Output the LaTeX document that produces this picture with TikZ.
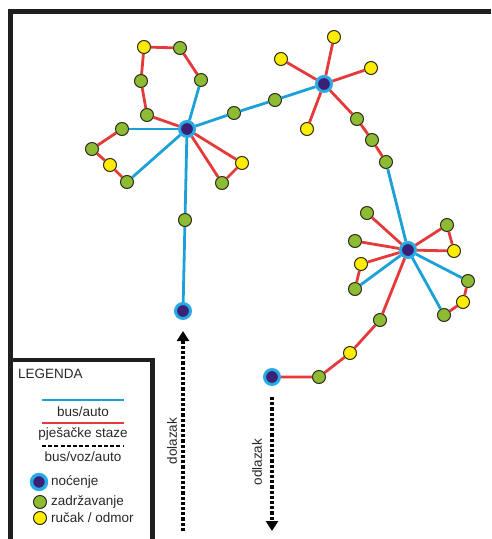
\documentclass[tikz,border=0pt]{standalone}
\usepackage{fontspec}
\setmainfont{Liberation Sans}
\usetikzlibrary{arrows.meta}
\definecolor{cblue}{RGB}{27,161,216}
\definecolor{cred}{RGB}{228,58,58}
\definecolor{cgreen}{RGB}{141,187,52}
\definecolor{cyel}{RGB}{255,236,0}
\definecolor{cpurp}{RGB}{58,32,118}
\definecolor{cring}{RGB}{40,170,228}
\definecolor{cedge}{RGB}{45,45,25}
\definecolor{ctext}{RGB}{40,40,40}
\tikzset{
  gn/.style={circle,draw=cedge,line width=1pt,fill=cgreen,minimum size=13pt,inner sep=0pt},
  yn/.style={circle,draw=cedge,line width=1pt,fill=cyel,minimum size=13pt,inner sep=0pt},
  hub/.style={circle,draw=cring,line width=3pt,fill=cpurp,minimum size=15pt,inner sep=0pt},
  bl/.style={draw=cblue,line width=2.8pt},
  rd/.style={draw=cred,line width=2.8pt},
  frame/.style={draw=black!88,line width=4.5pt},
  dsh/.style={draw=black,line width=3.4pt,dash pattern=on 3.2pt off 2pt},
  lbl/.style={text=ctext,font=\fontsize{13.5}{15}\selectfont,inner sep=0pt}
}
\begin{document}
\begin{tikzpicture}[x=1pt,y=-1pt]
\useasboundingbox (0,0) rectangle (491,539);
% frame
\coordinate (ftl) at (10.5,11.5);
\coordinate (ftr) at (491,11.5);
\coordinate (fbl) at (10.5,539);
\draw[frame] (ftr) -- (ftl) -- (fbl);
\coordinate (lgl) at (10.5,360);
\coordinate (lgr) at (152.5,360);
\coordinate (lgb) at (152.5,539);
\draw[frame] (lgl) -- (lgr) -- (lgb);

% hub A cluster
\node[hub] (A) at (187,129) {};
\node[yn] (a1) at (144,47) {};
\node[gn] (a2) at (180,48) {};
\node[gn] (a3) at (201,80) {};
\node[gn] (a4) at (141,81) {};
\node[gn] (a5) at (147,115) {};
\node[gn] (a6) at (122,129) {};
\node[gn] (a7) at (92,149) {};
\node[yn] (a8) at (110,165) {};
\node[gn] (a9) at (127,182) {};
\node[gn] (a10) at (234,113) {};
\node[yn] (a11) at (242,163) {};
\node[gn] (a12) at (222,183) {};
\node[gn] (a13) at (185,220) {};
\node[hub] (B) at (183,311) {};
\node[gn] (a14) at (275,100) {};

% hub C cluster
\node[hub] (C) at (324,84) {};
\node[yn] (c1) at (334,37) {};
\node[yn] (c2) at (281,59) {};
\node[yn] (c3) at (371,68) {};
\node[yn] (c4) at (307,129) {};
\node[gn] (c5) at (357,119) {};
\node[gn] (c6) at (372,140) {};
\node[gn] (c7) at (386,162) {};

% hub D cluster
\node[hub] (D) at (408,250) {};
\node[gn] (d1) at (367,213) {};
\node[gn] (d2) at (355,241) {};
\node[yn] (d3) at (361,264) {};
\node[gn] (d4) at (355,289) {};
\node[gn] (d5) at (447,225) {};
\node[yn] (d6) at (454,251) {};
\node[gn] (d7) at (468,281) {};
\node[yn] (d8) at (463,302) {};
\node[gn] (d9) at (444,315) {};
\node[gn] (d10) at (380,320) {};
\node[yn] (d11) at (350,353) {};
\node[gn] (d12) at (319,377) {};
\node[hub] (E) at (272,377) {};

% edges A
\draw[bl] (A) -- (a3);
\draw[rd] (a3) -- (a2) -- (a1) -- (a4) -- (a5) -- (A);
\draw[bl] (A) -- (a6);
\draw[rd] (a6) -- (a7) -- (a8) -- (a9);
\draw[bl] (a9) -- (A);
\draw[rd] (A) -- (a11) -- (a12) -- (A);
\draw[bl] (A) -- (a10) -- (a14) -- (C);
\draw[bl] (A) -- (a13) -- (B);
% edges C
\draw[rd] (C) -- (c1);
\draw[rd] (C) -- (c2);
\draw[rd] (C) -- (c3);
\draw[rd] (C) -- (c4);
\draw[rd] (C) -- (c5) -- (c6) -- (c7);
\draw[bl] (c7) -- (D);
% edges D
\draw[rd] (D) -- (d1);
\draw[rd] (D) -- (d2);
\draw[rd] (D) -- (d3) -- (d4);
\draw[bl] (d4) -- (D);
\draw[rd] (D) -- (d5) -- (d6) -- (D);
\draw[bl] (D) -- (d7);
\draw[rd] (d7) -- (d8) -- (d9);
\draw[bl] (d9) -- (D);
\draw[rd] (D) -- (d10) -- (d11) -- (d12) -- (E);

% arrows
\coordinate (dolS) at (183,531);
\coordinate (dolE) at (183,331);
\draw[dsh,-{Triangle[width=12pt,length=10pt]}] (dolS) -- (dolE);
\node[lbl,rotate=90] (dol) at (172,441) {dolazak};
\coordinate (odlS) at (272,397);
\coordinate (odlE) at (272,531);
\draw[dsh,-{Triangle[width=12pt,length=10pt]}] (odlS) -- (odlE);
\node[lbl,rotate=90] (odl) at (257,462) {odlazak};

% legend
\node[lbl,anchor=west] (leg) at (18,374) {LEGENDA};
\coordinate (l1a) at (42,400);
\coordinate (l1b) at (124,400);
\draw[draw=cblue,line width=2pt] (l1a) -- (l1b);
\node[lbl] (t1) at (83,412) {bus/auto};
\coordinate (l2a) at (42,423);
\coordinate (l2b) at (124,423);
\draw[draw=cred,line width=2pt] (l2a) -- (l2b);
\node[lbl] (t2) at (83,434) {pješačke staze};
\coordinate (l3a) at (42,446);
\coordinate (l3b) at (124,446);
\draw[draw=black,line width=2.2pt,dash pattern=on 4pt off 2.2pt] (l3a) -- (l3b);
\node[lbl] (t3) at (83,457) {bus/voz/auto};
\node[hub,minimum size=15pt,line width=3.4pt] (s1) at (39,482) {};
\node[lbl,anchor=west] (t4) at (51,482) {noćenje};
\node[gn] (s2) at (40,502) {};
\node[lbl,anchor=west] (t5) at (51,502) {zadržavanje};
\node[yn] (s3) at (40,518) {};
\node[lbl,anchor=west] (t6) at (51,518) {ručak / odmor};
\end{tikzpicture}
\end{document}
